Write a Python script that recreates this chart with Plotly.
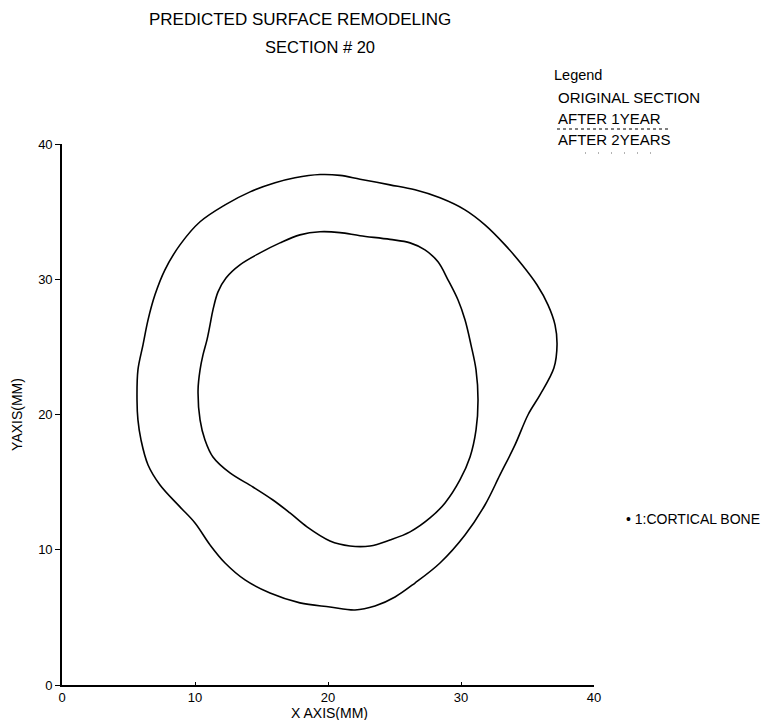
import plotly.graph_objects as go

# Periosteal (outer) boundary of section #20, in mm, traced clockwise from the top
outer_x = [20.90, 22.41, 24.66, 26.54, 28.42, 30.30, 31.80, 33.31, 34.59, 35.71,
           36.54, 37.07, 37.22, 36.99, 35.94, 35.05, 34.06, 32.93, 31.80, 30.30,
           28.42, 26.54, 25.04, 23.53, 22.03, 20.15, 17.89, 15.64, 13.76, 12.26,
           11.13, 10.00, 8.87, 7.37, 6.47, 5.94, 5.71, 5.64, 5.71, 6.09,
           6.47, 6.99, 7.74, 8.87, 10.38, 12.26, 14.14, 16.02, 17.52, 19.40]
outer_y = [37.68, 37.40, 36.98, 36.61, 36.02, 35.13, 34.02, 32.54, 31.07, 29.59,
           28.11, 26.63, 25.15, 23.45, 21.45, 20.00, 17.75, 15.53, 13.31, 11.09,
           9.02, 7.54, 6.51, 5.84, 5.55, 5.77, 6.07, 6.80, 7.77, 9.02,
           10.36, 11.98, 13.17, 14.79, 16.27, 18.12, 19.60, 21.08, 23.30, 25.15,
           27.00, 28.85, 30.70, 32.54, 34.25, 35.50, 36.46, 37.13, 37.50, 37.74]

# Endosteal (inner) boundary, in mm, traced clockwise from the top
inner_x = [20.90, 22.41, 24.66, 26.17, 27.29, 28.27, 29.02, 29.77, 30.30, 30.75,
           31.13, 31.28, 31.13, 30.68, 29.92, 28.80, 27.67, 26.17, 24.66, 23.16,
           21.65, 20.15, 18.42, 17.14, 15.86, 14.36, 12.63, 11.35, 10.75, 10.38,
           10.23, 10.38, 10.60, 10.90, 11.13, 11.35, 11.73, 12.33, 13.38, 14.89,
           16.39, 17.89, 19.40]
inner_y = [33.45, 33.22, 32.95, 32.69, 32.17, 31.29, 29.96, 28.48, 27.00, 25.15,
           23.30, 21.08, 18.86, 16.86, 15.16, 13.46, 12.35, 11.32, 10.72, 10.28,
           10.28, 10.65, 11.69, 12.72, 13.68, 14.64, 15.68, 16.86, 18.12, 19.60,
           21.82, 23.30, 24.41, 25.52, 26.63, 27.74, 29.07, 30.10, 31.07, 31.95,
           32.69, 33.28, 33.51]

tick_vals = [0, 10, 20, 30, 40]
tick_text = ["0", "10", "20", "30", "40"]

legend_items = ["ORIGINAL SECTION", "AFTER 1YEAR", "AFTER 2YEARS"]

FONT = "Liberation Sans, Arial, sans-serif"

fig = go.Figure()
for xs, ys in ((outer_x, outer_y), (inner_x, inner_y)):
    fig.add_trace(go.Scatter(
        x=xs + xs[:1], y=ys + ys[:1], mode="lines",
        line=dict(color="black", width=1.6, shape="spline", smoothing=1.0),
        showlegend=False, hoverinfo="skip"))

axis_common = dict(
    range=[0, 40], tickvals=tick_vals, ticktext=tick_text,
    showgrid=False, zeroline=False, showline=True, linecolor="black",
    linewidth=1.6, tickcolor="black", automargin=False,
    tickfont=dict(family=FONT, size=13, color="black"),
)
fig.update_xaxes(**axis_common, ticks="inside", ticklen=3)
fig.update_yaxes(**axis_common, ticks="outside", ticklen=5,
                 title=dict(text="YAXIS(MM)", standoff=12,
                            font=dict(family=FONT, size=14, color="black")))

annotations = [
    dict(text="PREDICTED SURFACE REMODELING", x=147, y=20, size=17),
    dict(text="SECTION # 20", x=263, y=47, size=16.5),
    dict(text="Legend", x=552, y=75, size=14.5),
    dict(text=legend_items[0], x=556, y=97, size=15),
    dict(text=legend_items[1], x=556, y=118, size=15),
    dict(text=legend_items[2], x=556, y=140, size=15),
    dict(text="• 1:CORTICAL BONE", x=624, y=519, size=14),
    dict(text="X AXIS(MM)", x=289, y=713, size=14),
]
W, H = 762, 720
L, R, T, B = 62, 168, 144, 35
fig.update_layout(
    width=W, height=H,
    margin=dict(l=L, r=R, t=T, b=B),
    paper_bgcolor="white", plot_bgcolor="white",
    annotations=[dict(text=a["text"], xref="paper", yref="paper",
                      x=(a["x"] - L) / (W - L - R),
                      y=(H - B - a["y"]) / (H - T - B),
                      xanchor="left", yanchor="middle", showarrow=False,
                      font=dict(family=FONT, size=a["size"], color="black"))
                 for a in annotations],
    shapes=[
        dict(type="line", xref="paper", yref="paper",
             x0=(557 - L) / (W - L - R), x1=(668 - L) / (W - L - R),
             y0=(H - B - 129) / (H - T - B), y1=(H - B - 129) / (H - T - B),
             line=dict(color="black", width=1, dash="3px,3px")),
        dict(type="line", xref="paper", yref="paper",
             x0=(585 - L) / (W - L - R), x1=(660 - L) / (W - L - R),
             y0=(H - B - 153) / (H - T - B), y1=(H - B - 153) / (H - T - B),
             line=dict(color="#666", width=1, dash="1px,12px")),
    ],
)

fig.write_html("out.html")
